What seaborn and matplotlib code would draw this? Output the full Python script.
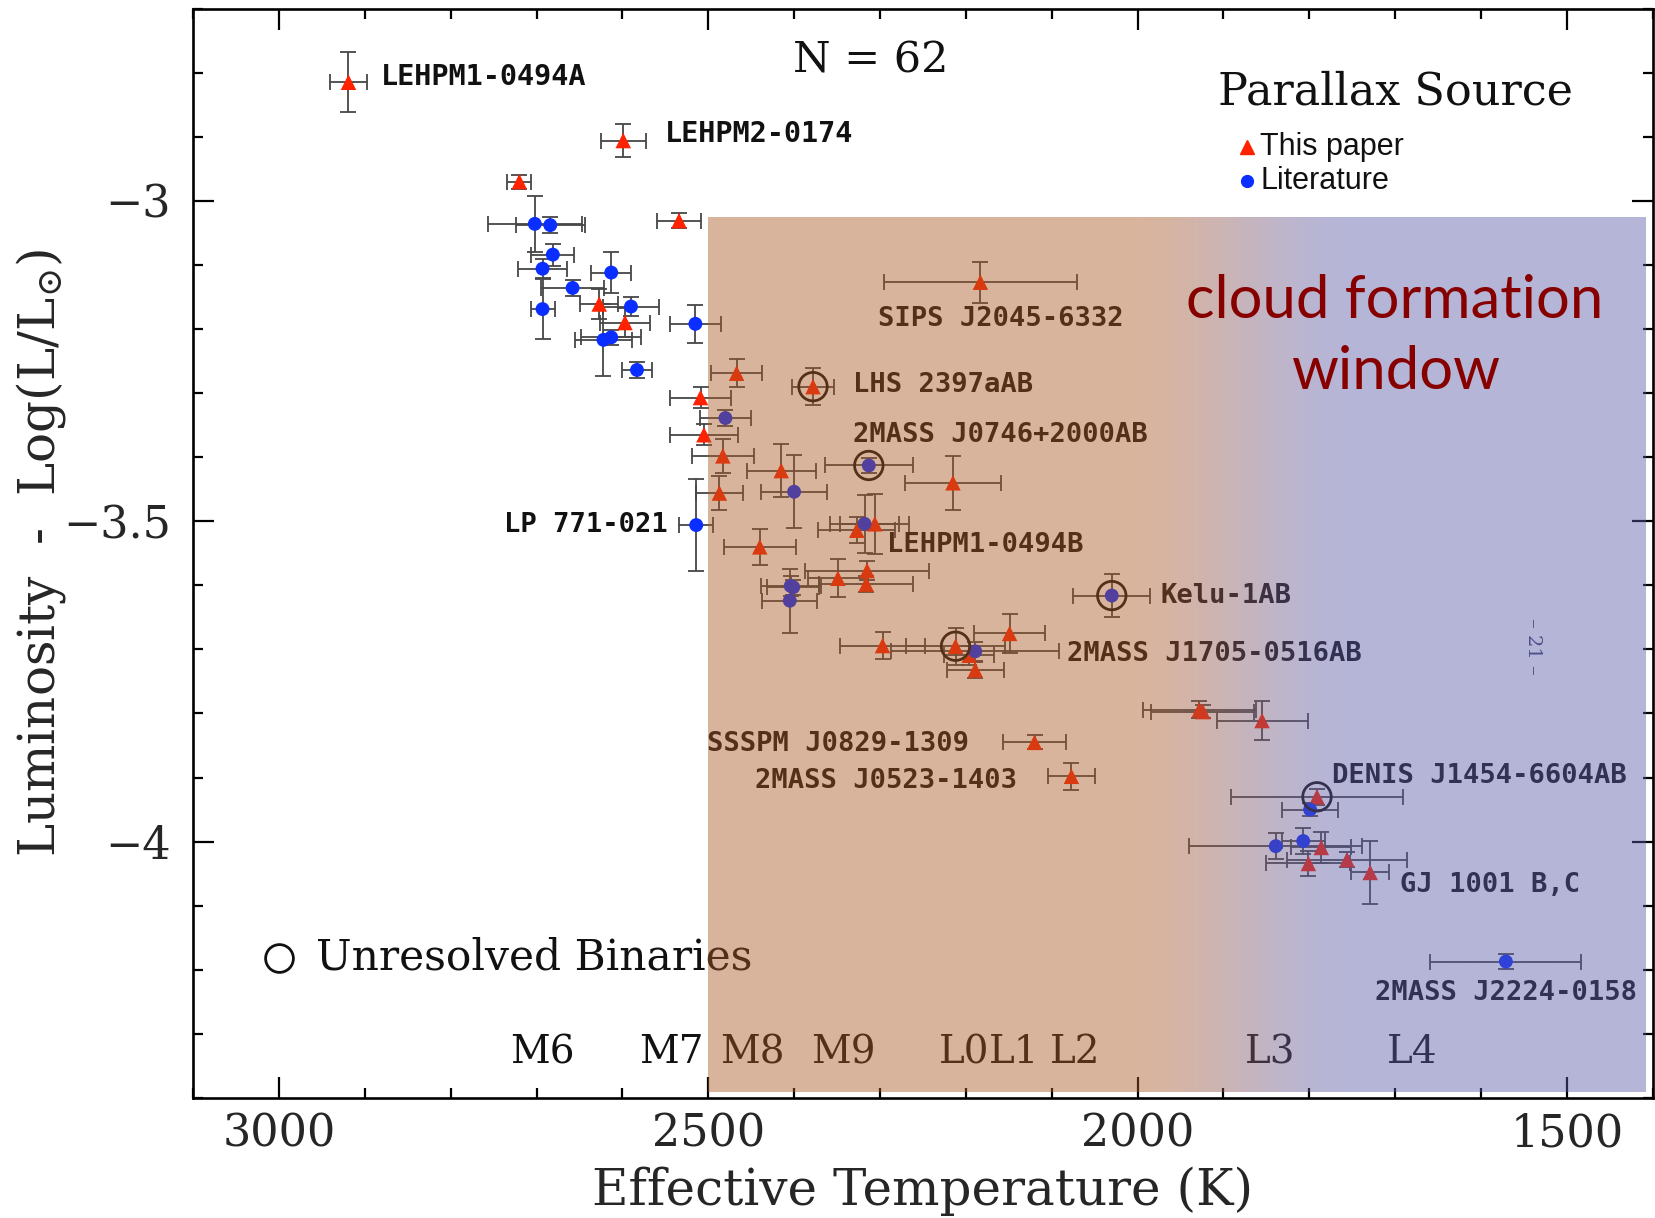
import numpy as np
import pandas as pd
import matplotlib
matplotlib.use("Agg")
import matplotlib.pyplot as plt
from matplotlib.ticker import MultipleLocator, FixedLocator
import seaborn as sns

# ---------------------------------------------------------------------------
# Effective temperature (K), luminosity log(L/Lsun) and their 1-sigma errors
# ---------------------------------------------------------------------------
teff = [2919, 2599, 2720, 2534, 2183, 2627, 2597, 2467, 2378, 2509,
        2505, 2483, 2415, 2215, 2487, 2327, 2306, 2440, 2315, 2316,
        2349, 2149, 2297, 2212, 2196, 2189, 2120, 2077, 1928, 1924,
        1855, 1791, 1786, 1801, 1756, 1729,
        2702, 2684, 2681, 2693, 2658, 2613, 2693, 2590, 2622, 2613,
        2583, 2515, 2514, 2480, 2400, 2313, 2318, 2030, 2404, 2401,
        2405, 2189, 1799, 1839, 1807, 1571]
teff_err = [22, 26, 14, 26, 112, 22, 29, 30, 25, 35,
            40, 36, 40, 56, 27, 45, 40, 42, 72, 55,
            35, 41, 49, 58, 29, 33, 37, 27, 66, 60,
            53, 100, 35, 49, 70, 22,
            55, 40, 25, 28, 37, 23, 14, 33, 33, 35,
            17, 30, 20, 30, 38, 51, 40, 45, 35, 30,
            32, 98, 33, 101, 25, 88]
log_lum = [-2.815, -2.906, -2.970, -3.031, -3.127, -3.161, -3.190, -3.269, -3.290, -3.307,
           -3.365, -3.398, -3.421, -3.440, -3.456, -3.514, -3.504, -3.540, -3.577, -3.598,
           -3.589, -3.675, -3.694, -3.695, -3.709, -3.732, -3.845, -3.898, -3.794, -3.797,
           -3.811, -3.930, -4.009, -4.034, -4.028, -4.048,
           -3.036, -3.038, -3.084, -3.106, -3.136, -3.112, -3.169, -3.165, -3.217, -3.213,
           -3.264, -3.192, -3.506, -3.339, -3.454, -3.413, -3.504, -3.616, -3.601, -3.603,
           -3.624, -3.703, -3.950, -4.007, -3.999, -4.187]
log_lum_err = [0.047, 0.026, 0.011, 0.012, 0.032, 0.023, 0.023, 0.022, 0.029, 0.016,
               0.016, 0.026, 0.041, 0.042, 0.027, 0.020, 0.047, 0.028, 0.015, 0.012,
               0.030, 0.030, 0.021, 0.029, 0.015, 0.012, 0.011, 0.021, 0.013, 0.010,
               0.030, 0.012, 0.024, 0.019, 0.012, 0.049,
               0.044, 0.012, 0.017, 0.015, 0.012, 0.032, 0.047, 0.015, 0.056, 0.012,
               0.012, 0.030, 0.072, 0.012, 0.057, 0.012, 0.045, 0.034, 0.015, 0.012,
               0.050, 0.015, 0.010, 0.020, 0.020, 0.012]
source = ["This paper"] * 36 + ["Literature"] * 26
unresolved = [False] * 62
for i in (8, 23, 31, 51, 53):
    unresolved[i] = True

# Named objects: (label, x, y, horizontal alignment)
object_labels = [
    ("LEHPM1-0494A", 2881, -2.807, "left"),
    ("LEHPM2-0174", 2551, -2.896, "left"),
    ("SIPS J2045-6332", 2302, -3.185, "left"),
    ("LHS 2397aAB", 2331, -3.287, "left"),
    ("2MASS J0746+2000AB", 2331, -3.366, "left"),
    ("LP 771-021", 2547, -3.506, "right"),
    ("LEHPM1-0494B", 2292, -3.537, "left"),
    ("Kelu-1AB", 1973, -3.616, "left"),
    ("2MASS J1705-0516AB", 2082, -3.707, "left"),
    ("SSSPM J0829-1309", 2502, -3.847, "left"),
    ("2MASS J0523-1403", 2446, -3.906, "left"),
    ("DENIS J1454-6604AB", 1773, -3.898, "left"),
    ("GJ 1001 B,C", 1694, -4.068, "left"),
    ("2MASS J2224-0158", 1723, -4.236, "left"),
]

# Spectral types along the temperature scale
spt_labels = ["M6", "M7", "M8", "M9", "L0", "L1", "L2", "L3", "L4"]
spt_teff = [2693, 2543, 2449, 2343, 2202, 2144, 2073, 1845, 1680]

RED = "#FF2200"
BLUE = "#0A2EFF"

sns.set_style("ticks")
plt.rcParams["font.family"] = ["DejaVu Serif", "DejaVu Sans"]
plt.rcParams["mathtext.fontset"] = "dejavuserif"

fig = plt.figure(figsize=(16.56, 12.18), dpi=100)
ax = fig.add_axes([0.1166, 0.0985, 0.8814, 0.8945])

df = pd.DataFrame({
    "teff": teff, "teff_err": teff_err,
    "lum": log_lum, "lum_err": log_lum_err,
    "source": source, "unresolved": unresolved,
})

# error bars
ax.errorbar(df["teff"], df["lum"], xerr=df["teff_err"], yerr=df["lum_err"],
            fmt="none", ecolor="#474747", elinewidth=1.3, capsize=6,
            capthick=1.3, zorder=2)

# data points
sns.scatterplot(data=df, x="teff", y="lum", hue="source", style="source",
                palette={"This paper": RED, "Literature": BLUE},
                markers={"This paper": "^", "Literature": "o"},
                size="source", sizes={"This paper": 125, "Literature": 100},
                linewidth=0, legend=False, ax=ax, zorder=3)

# unresolved binaries
bin_df = df[df["unresolved"]]
ax.scatter(bin_df["teff"], bin_df["lum"], s=420, facecolors="none",
           edgecolors="#111111", linewidths=2.0, zorder=4)

# object names
for text, x, y, ha in object_labels:
    big = text.startswith("LEHPM1-0494A") or text.startswith("LEHPM2")
    ax.text(x, y, text, ha=ha, va="center", fontsize=20.5 if big else 19.5,
            fontweight="bold", family="DejaVu Sans Mono", color="#111111",
            zorder=4)

# spectral-type scale
for lab, t in zip(spt_labels, spt_teff):
    ax.text(t, -4.329, lab, ha="center", va="center", fontsize=28,
            color="#111111", zorder=4)

ax.text(2311, -2.781, "N = 62", ha="center", va="center", fontsize=31,
        color="#111111", zorder=4)

# unresolved-binary key
ax.plot([3000], [-4.181], marker="o", ms=20, mfc="none", mec="#111111",
        mew=2.0, ls="none", zorder=4)
ax.text(2957, -4.181, "Unresolved Binaries", ha="left", va="center",
        fontsize=30.5, color="#111111", zorder=4)

# parallax-source key
ax.text(1699, -2.830, "Parallax Source", ha="center", va="center",
        fontsize=32, color="#111111", zorder=4)
ax.plot([1873], [-2.916], marker="^", ms=10, color=RED, ls="none", zorder=4)
ax.plot([1873], [-2.969], marker="o", ms=8.5, color=BLUE, ls="none", zorder=4)
ax.text(1857, -2.916, "This paper", ha="left", va="center", fontsize=22,
        family="Liberation Sans", color="#111111", zorder=4)
ax.text(1857, -2.969, "Literature", ha="left", va="center", fontsize=22,
        family="Liberation Sans", color="#111111", zorder=4)

# cloud formation window: translucent band shading from tan to lavender
tan = np.array([171, 88, 37]) / 255
lav = np.array([91, 91, 168]) / 255
grid_t = np.linspace(2500, 1408, 600)
w = np.clip((2015 - grid_t) / 270.0, 0, 1)
w = w * w * (3 - 2 * w)
rgb = (1 - w)[:, None] * tan + w[:, None] * lav
rgba = np.concatenate([rgb, np.full((len(grid_t), 1), 0.45)], axis=1)[None]
ax.imshow(rgba, extent=(2500, 1408, -4.39, -3.025), aspect="auto",
          interpolation="bilinear", zorder=5)

ax.text(1700, -3.212, "cloud formation\nwindow", ha="center", va="center",
        fontsize=43, family="Lato", color="#870000", linespacing=1.38,
        zorder=6)
ax.text(1539, -3.695, "\u2013 21 \u2013", rotation=-90, ha="center",
        va="center", fontsize=14, color="#4b5089", zorder=6)

# axes
ax.set_xlim(3100, 1400)
ax.set_ylim(-4.4, -2.7)
ax.xaxis.set_major_locator(FixedLocator([3000, 2500, 2000, 1500]))
ax.xaxis.set_minor_locator(MultipleLocator(100))
ax.yaxis.set_major_locator(FixedLocator([-4.0, -3.5, -3.0]))
ax.yaxis.set_minor_locator(MultipleLocator(0.1))
ax.set_xticklabels(["3000", "2500", "2000", "1500"])
ax.set_yticklabels(["\u22124", "\u22123.5", "\u22123"])
ax.tick_params(which="both", direction="in", top=True, right=True,
               width=1.6, color="black")
ax.tick_params(which="major", length=15, labelsize=32)
ax.tick_params(axis="x", which="major", pad=10)
ax.tick_params(axis="y", which="major", pad=16)
ax.tick_params(which="minor", length=7.5)
for sp in ax.spines.values():
    sp.set_linewidth(1.9)
    sp.set_color("black")
    sp.set_zorder(7)

ax.set_xlabel("Effective Temperature (K)", fontsize=36)
ax.set_ylabel(r"Luminosity  -  Log(L/L$_{\odot}$)", fontsize=36)
ax.xaxis.set_label_coords(0.5, -0.063)
ax.yaxis.set_label_coords(-0.086, 0.5)

fig.savefig("out.png", dpi=100)
